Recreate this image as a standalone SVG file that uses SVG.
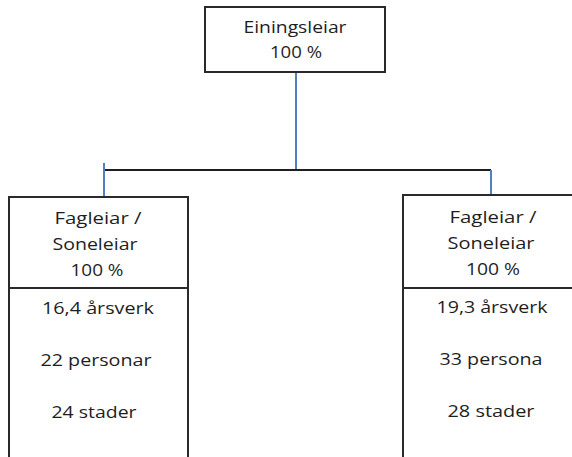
<svg xmlns="http://www.w3.org/2000/svg" width="572" height="457" viewBox="0 0 572 457">
  <style>
    .box { fill: #ffffff; stroke: #2a2a2a; stroke-width: 2; }
    .div { stroke: #2a2a2a; stroke-width: 2; fill: none; }
    .lbl { font-family: "Open Sans", "Liberation Sans", sans-serif; font-size: 16px; fill: #1e1e1e; text-anchor: middle; }
    .blue { stroke: #4f81bd; stroke-width: 2; fill: none; }
    .bar { stroke: #1e1e1e; stroke-width: 2; fill: none; }
  </style>
  <rect width="572" height="457" fill="#ffffff"/>

  <!-- connectors -->
  <g id="connectors">
    <line class="blue" x1="296" y1="72" x2="296" y2="170"/>
    <line class="bar" x1="104" y1="170" x2="491" y2="170"/>
    <line class="blue" x1="104" y1="163" x2="104" y2="197"/>
    <line class="blue" x1="491" y1="170" x2="491" y2="195"/>
  </g>

  <!-- unit leader -->
  <g id="eiingsleiar">
    <rect class="box" x="205" y="7" width="180" height="65"/>
    <text class="lbl" x="295" y="33" textLength="103" lengthAdjust="spacingAndGlyphs">Einingsleiar</text>
    <text class="lbl" x="296" y="58" textLength="52" lengthAdjust="spacingAndGlyphs">100 %</text>
  </g>

  <!-- left section leader -->
  <g id="fagleiar-venstre">
    <rect class="box" x="9" y="197" width="179" height="270"/>
    <line class="div" x1="9" y1="288" x2="188" y2="288"/>
    <text class="lbl" x="98" y="224" textLength="87" lengthAdjust="spacingAndGlyphs">Fagleiar /</text>
    <text class="lbl" x="95" y="250" textLength="85" lengthAdjust="spacingAndGlyphs">Soneleiar</text>
    <text class="lbl" x="97" y="276" textLength="53" lengthAdjust="spacingAndGlyphs">100 %</text>
    <text class="lbl" x="98" y="314" textLength="112" lengthAdjust="spacingAndGlyphs">16,4 årsverk</text>
    <text class="lbl" x="96" y="366" textLength="111" lengthAdjust="spacingAndGlyphs">22 personar</text>
    <text class="lbl" x="94" y="418" textLength="85" lengthAdjust="spacingAndGlyphs">24 stader</text>
  </g>

  <!-- right section leader -->
  <g id="fagleiar-hoegre">
    <rect class="box" x="403" y="195" width="180" height="272"/>
    <line class="div" x1="403" y1="288" x2="583" y2="288"/>
    <text class="lbl" x="493" y="223" textLength="87" lengthAdjust="spacingAndGlyphs">Fagleiar /</text>
    <text class="lbl" x="491" y="249" textLength="87" lengthAdjust="spacingAndGlyphs">Soneleiar</text>
    <text class="lbl" x="493" y="275" textLength="54" lengthAdjust="spacingAndGlyphs">100 %</text>
    <text class="lbl" x="492" y="313" textLength="111" lengthAdjust="spacingAndGlyphs">19,3 årsverk</text>
    <text class="lbl" x="491" y="365" textLength="103" lengthAdjust="spacingAndGlyphs">33 persona</text>
    <text class="lbl" x="491" y="417" textLength="87" lengthAdjust="spacingAndGlyphs">28 stader</text>
  </g>
</svg>
